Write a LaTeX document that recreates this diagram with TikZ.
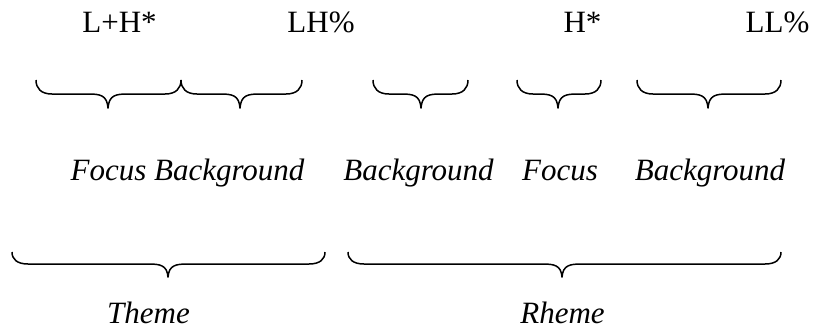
\documentclass[tikz,border=0pt]{standalone}
\usepackage{fontspec}
\setmainfont{Liberation Serif}
\newcommand\curlybr[6]{% x1 x2 tip top line tipy
  \draw[bracestyle] (#1,#4) .. controls (#1,{#4+0.6*(#5-#4)}) and ({#1+5},#5) .. ({#1+16},#5)
    -- ({#3-20},#5) .. controls ({#3-8},#5) and ({#3-1},{#5+1}) .. (#3,#6)
    .. controls ({#3+1},{#5+1}) and ({#3+8},#5) .. ({#3+20},#5)
    -- ({#2-16},#5) .. controls ({#2-5},#5) and (#2,{#4+0.6*(#5-#4)}) .. (#2,#4);}
\tikzset{
  bracestyle/.style={line width=1.5pt, line join=round},
  lab/.style={anchor=base, inner sep=0pt, font=\fontsize{31}{36}\selectfont},
  ilab/.style={lab, font=\fontsize{31}{36}\selectfont\itshape}
}
\begin{document}
\begin{tikzpicture}[x=1pt,y=-1pt]
\useasboundingbox (0,0) rectangle (816,330);
% top labels
\node[lab] (lhs) at (119.5,32) {L+H*};
\node[lab] (lhp) at (321,32) {LH\%};
\node[lab] (hs) at (582.5,32) {H*};
\node[lab] (llp) at (777.5,32) {LL\%};
% first row of braces
\curlybr{36}{181}{108}{80}{94}{108}
\curlybr{181}{302}{240}{80}{94}{108}
\curlybr{373}{468}{421}{80}{94}{108}
\curlybr{517}{601}{558}{80}{94}{108}
\curlybr{637}{781}{708}{80}{94}{108}
% second row of labels
\node[ilab] (fb) at (187.5,180) {Focus Background};
\node[ilab] (bg2) at (418.5,180) {Background};
\node[ilab] (fc) at (560,180) {Focus};
\node[ilab] (bg3) at (710,180) {Background};
% second row of braces
\curlybr{12}{325}{168}{252}{264}{277}
\curlybr{348}{781}{562}{252}{264}{277}
% bottom labels
\node[ilab] (th) at (148.5,323) {Theme};
\node[ilab] (rh) at (562.5,323) {Rheme};
\end{tikzpicture}
\end{document}
